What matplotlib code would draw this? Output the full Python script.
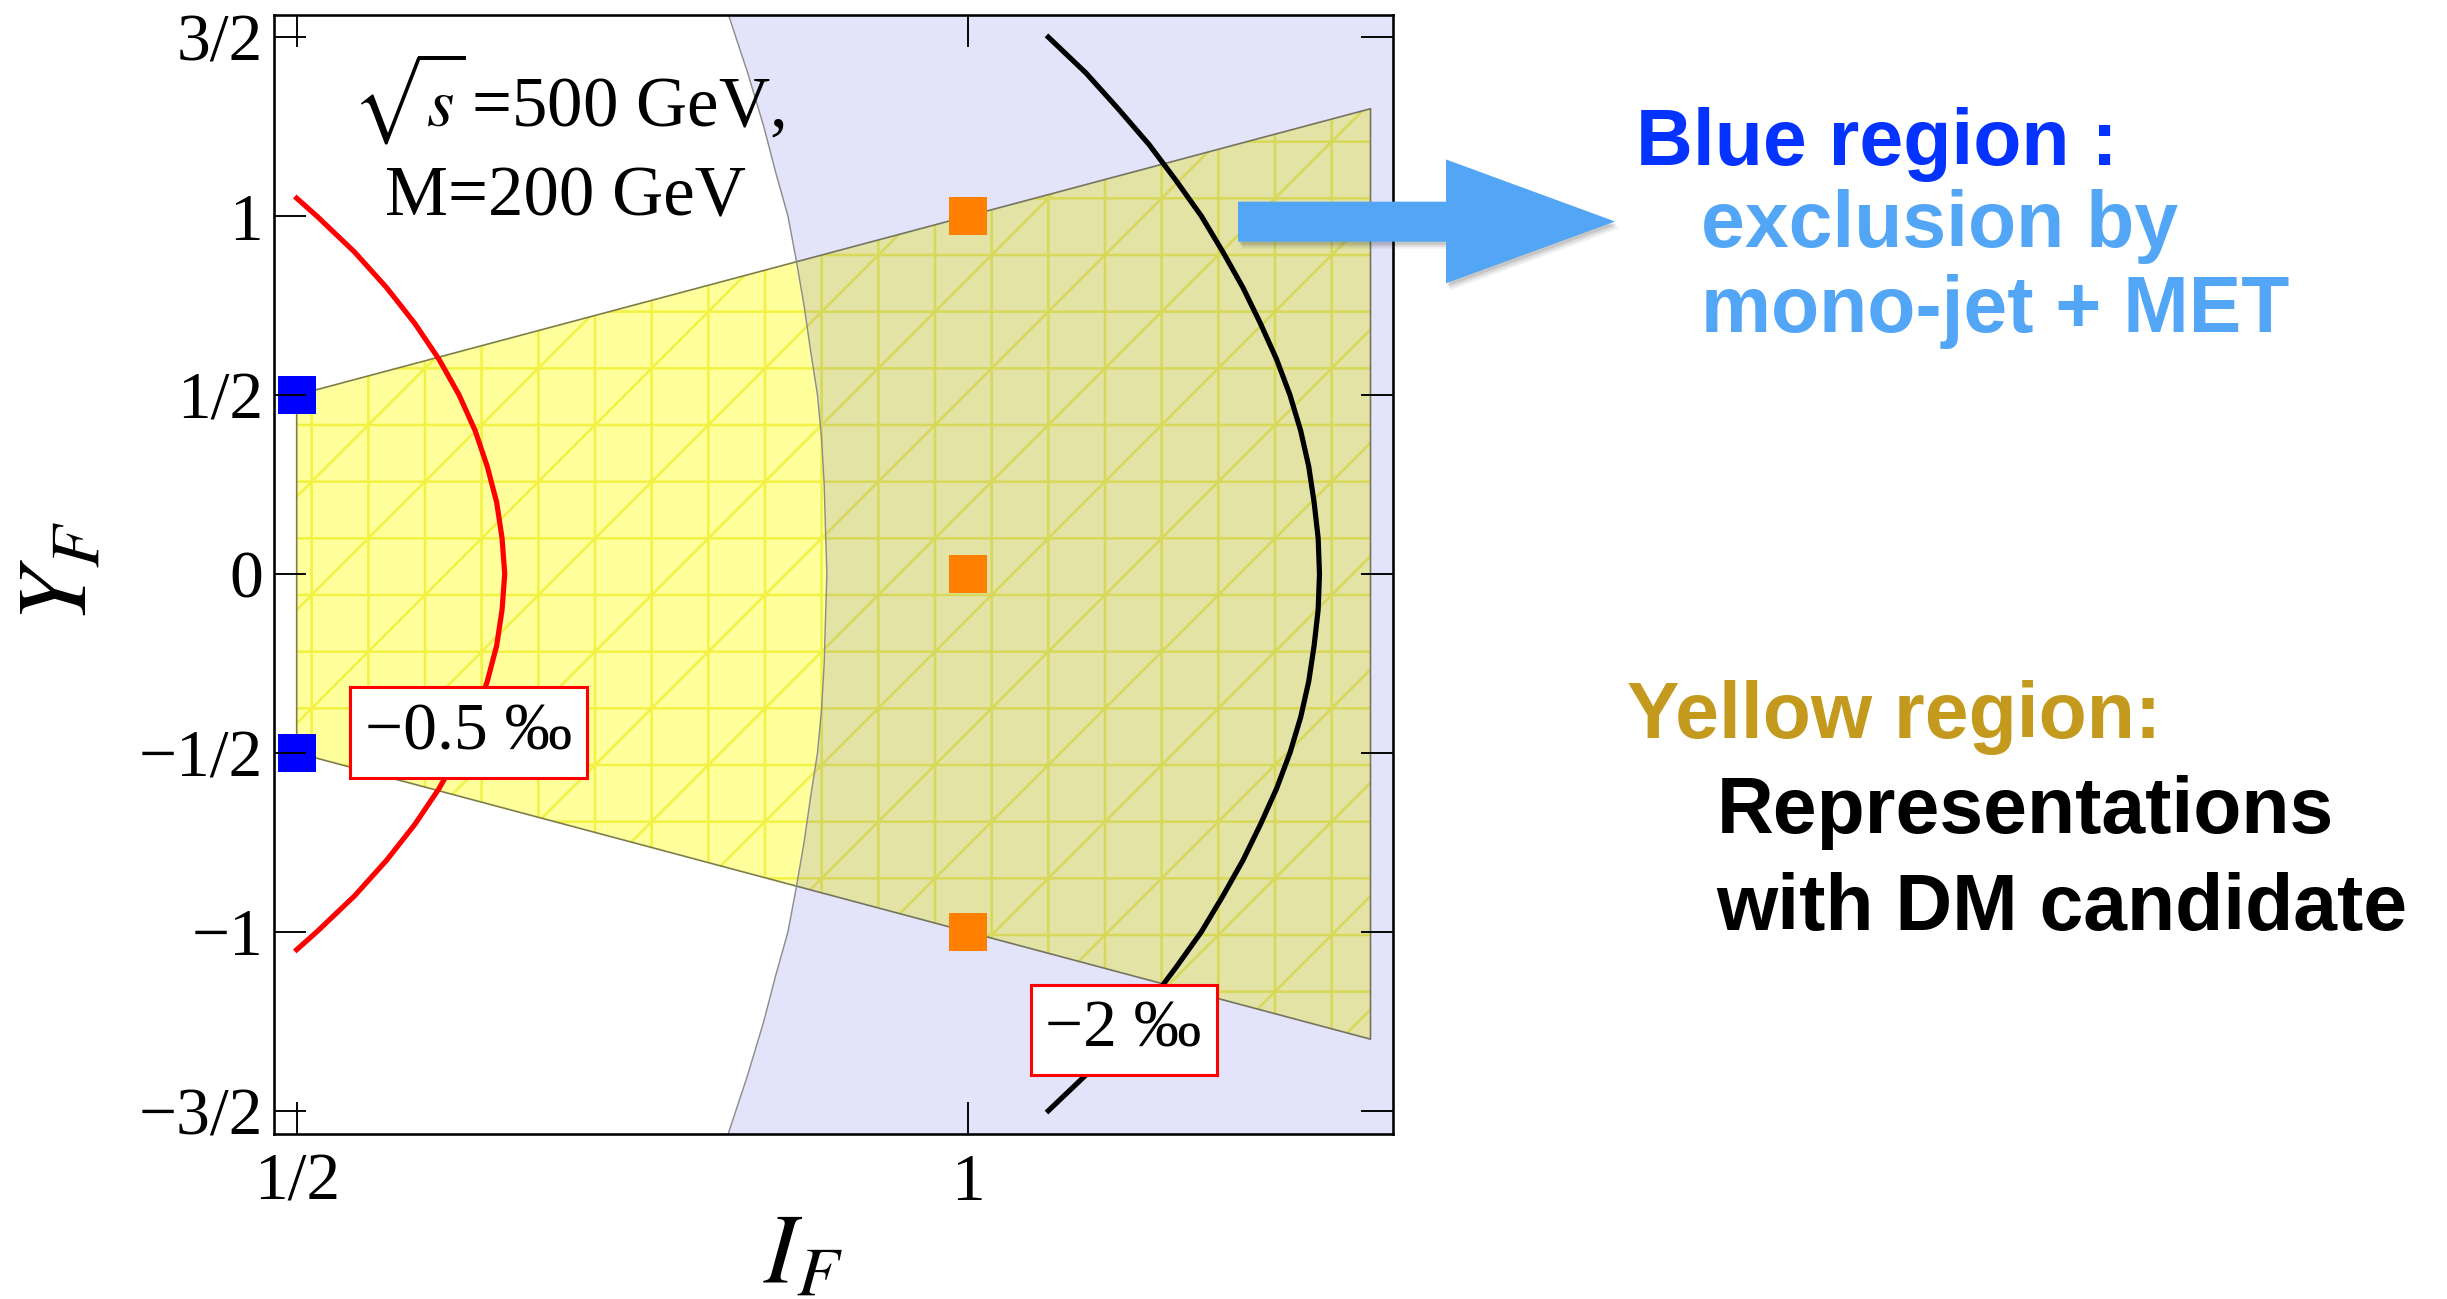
import matplotlib.pyplot as plt
from matplotlib.patches import Polygon

W, H, DPI = 2447, 1299, 340

plt.rcParams['font.family'] = ['Liberation Serif', 'DejaVu Serif']
plt.rcParams['mathtext.fontset'] = 'stix'
plt.rcParams['hatch.linewidth'] = 0.55

# yellow band: representations with a DM candidate, |Y_F| <= I_F
yellow_I = [0.5, 1.3]
yellow_lo = [-0.5, -1.3]
yellow_hi = [0.5, 1.3]

# left edge of the mono-jet + MET exclusion (excluded to the right)
blue_Y = [1.57, 1.40, 1.25, 1.12, 1.00, 0.88, 0.75, 0.62, 0.50, 0.38, 0.25, 0.12, 0.0,
          -0.12, -0.25, -0.38, -0.50, -0.62, -0.75, -0.88, -1.00, -1.12, -1.25, -1.40, -1.57]
blue_I = [0.821, 0.836, 0.848, 0.857, 0.866, 0.872, 0.878, 0.883, 0.888, 0.891, 0.893, 0.894, 0.895,
          0.894, 0.893, 0.891, 0.888, 0.883, 0.878, 0.872, 0.866, 0.857, 0.848, 0.836, 0.821]

# -0.5 permil contour
red_Y = [1.05, 1.0, 0.9, 0.8, 0.7, 0.6, 0.5, 0.4, 0.3, 0.2, 0.1, 0.0,
         -0.1, -0.2, -0.3, -0.4, -0.5, -0.6, -0.7, -0.8, -0.9, -1.0, -1.05]
red_I = [0.500, 0.515, 0.543, 0.567, 0.588, 0.606, 0.621, 0.633, 0.642, 0.649, 0.653, 0.655,
         0.653, 0.649, 0.642, 0.633, 0.621, 0.606, 0.588, 0.567, 0.543, 0.515, 0.500]

# -2 permil contour
black_Y = [1.5, 1.4, 1.3, 1.2, 1.1, 1.0, 0.9, 0.8, 0.7, 0.6, 0.5, 0.4, 0.3, 0.2, 0.1, 0.0,
           -0.1, -0.2, -0.3, -0.4, -0.5, -0.6, -0.7, -0.8, -0.9, -1.0, -1.1, -1.2, -1.3, -1.4, -1.5]
black_I = [1.060, 1.088, 1.112, 1.135, 1.155, 1.174, 1.190, 1.205, 1.218, 1.230, 1.240, 1.248,
           1.254, 1.258, 1.261, 1.262,
           1.261, 1.258, 1.254, 1.248, 1.240, 1.230, 1.218, 1.205, 1.190, 1.174, 1.155, 1.135,
           1.112, 1.088, 1.060]

contour_labels = ['\u22120.5 \u2030', '\u22122 \u2030']
label_I = [0.628, 1.116]
label_Y = [-0.443, -1.274]

# representations marked on the plane
blue_pts_I = [0.5, 0.5]
blue_pts_Y = [0.5, -0.5]
orange_pts_I = [1.0, 1.0, 1.0]
orange_pts_Y = [1.0, 0.0, -1.0]

xticks = [0.5, 1.0]
xtick_labels = ['1/2', '1']
yticks = [1.5, 1.0, 0.5, 0.0, -0.5, -1.0, -1.5]
ytick_labels = ['3/2', '1', '1/2', '0', '\u22121/2', '\u22121', '\u22123/2']

fig = plt.figure(figsize=(W / DPI + 1e-4, H / DPI + 1e-4), dpi=DPI)
ax = fig.add_axes([274 / W, 1 - 1134 / H, 1119.3 / W, 1119 / H])
ax.set_xlim(0.4831, 1.317)
ax.set_ylim(-1.565, 1.562)

# yellow band with its mesh texture
ax.fill_between(yellow_I, yellow_lo, yellow_hi, facecolor='#ffff9c', edgecolor='none', zorder=1)
ax.fill_between(yellow_I, yellow_lo, yellow_hi, facecolor='none',
                edgecolor=(0.93, 0.93, 0.12, 0.7), hatch='+/', linewidth=0, zorder=1.1)
ax.fill_between(yellow_I, yellow_lo, yellow_hi, facecolor='none',
                edgecolor='#7d7d48', linewidth=0.35, zorder=1.2)

# exclusion region on top, semi transparent
ax.fill_betweenx(blue_Y, blue_I, 1.4, facecolor=(68 / 255, 68 / 255, 228 / 255), alpha=0.15,
                 edgecolor='none', zorder=1.5)
ax.plot(blue_I, blue_Y, color='#8c8c8c', lw=0.3, zorder=1.6)

ax.plot(red_I, red_Y, color='#ff0000', lw=1.1, zorder=2, solid_joinstyle='round')
ax.plot(black_I, black_Y, color='black', lw=1.1, zorder=2, solid_joinstyle='round')

ax.plot(blue_pts_I, blue_pts_Y, 's', color='#0000ff', ms=8.2, mew=0, zorder=2.2, clip_on=False)
ax.plot(orange_pts_I, orange_pts_Y, 's', color='#ff8000', ms=8.2, mew=0, zorder=2.2, clip_on=False)

for txt, xi, yi in zip(contour_labels, label_I, label_Y):
    ax.text(xi, yi, txt, fontsize=14.3, ha='center', va='center', zorder=3,
            bbox=dict(boxstyle='square,pad=0.22', fc='white', ec='#ff0000', lw=0.65))

ax.text(0.0694, 0.900, r'$\sqrt{s}\,$=500 GeV,', transform=ax.transAxes, fontsize=15,
        ha='left', va='baseline')
ax.text(0.0992, 0.8204, 'M=200 GeV', transform=ax.transAxes, fontsize=15,
        ha='left', va='baseline')

ax.set_xticks(xticks)
ax.set_xticklabels(xtick_labels)
ax.set_yticks(yticks)
ax.set_yticklabels(ytick_labels)
ax.tick_params(direction='in', length=6.8, width=0.4, top=True, right=True,
               labelsize=14.3, colors='black')
ax.tick_params(axis='y', pad=2.3)
ax.tick_params(axis='x', pad=4)
ax.set_axisbelow(False)
for sp in ax.spines.values():
    sp.set_linewidth(0.55)

ax.set_xlabel(r'$I_F$', fontsize=21)
ax.xaxis.set_label_coords(0.4726, -0.1108)
ax.xaxis.label.set_va('center')
ax.set_ylabel(r'$Y_F$', fontsize=21)
ax.yaxis.set_label_coords(-0.1894, 0.502)
ax.yaxis.label.set_va('center')


def px(x, y):
    return (x / W, 1 - y / H)


# arrow pointing to the legend text, with a soft drop shadow
arrow_px = [(1238, 201.7), (1446, 201.7), (1446, 159.5), (1615, 221.5),
            (1446, 283.3), (1446, 241.7), (1238, 241.7)]
for k, a in [(7, 0.06), (5, 0.08), (3, 0.10)]:
    shadow = Polygon([px(x + k * 0.6, y + k) for x, y in arrow_px], closed=True,
                     transform=fig.transFigure, facecolor='black', alpha=a, edgecolor='none')
    fig.patches.append(shadow)
fig.patches.append(Polygon([px(x, y) for x, y in arrow_px], closed=True,
                           transform=fig.transFigure, facecolor='#52a6f5', edgecolor='none'))

sans = dict(family=['Liberation Sans', 'DejaVu Sans'], weight='bold', fontsize=16.7, va='baseline')
fig.text(*px(1635.8, 165), 'Blue region :', color='#0432ff', **sans)
fig.text(*px(1701, 246.7), 'exclusion by', color='#52a6f5', **sans)
fig.text(*px(1701, 332.3), 'mono-jet + MET', color='#52a6f5', **sans)
fig.text(*px(1627.2, 738.3), 'Yellow region:', color='#c49a1e', **sans)
fig.text(*px(1716.5, 833.3), 'Representations', color='black', **sans)
fig.text(*px(1716.5, 930), 'with DM candidate', color='black', **sans)

fig.savefig('out.png', dpi=DPI)
